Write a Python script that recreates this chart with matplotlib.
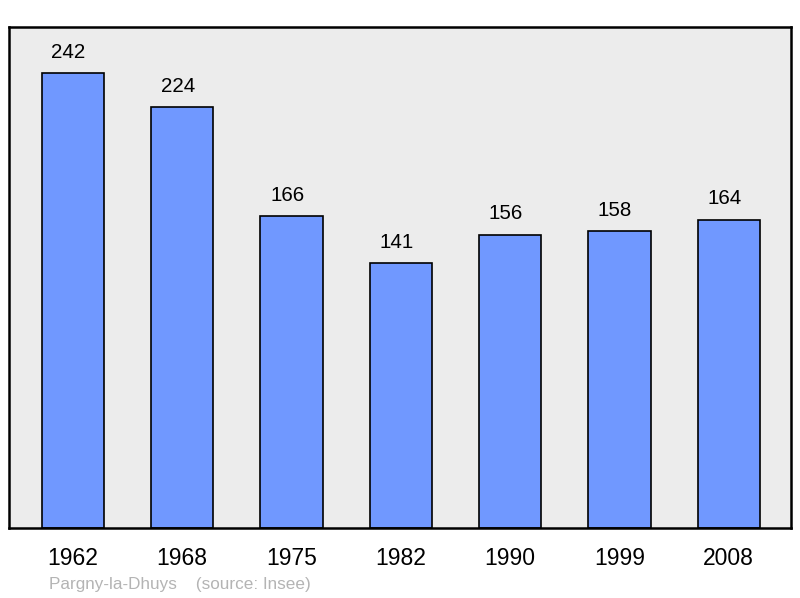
import matplotlib
matplotlib.use("Agg")
import matplotlib.pyplot as plt

# Population data
years = ["1962", "1968", "1975", "1982", "1990", "1999", "2008"]
population = [242, 224, 166, 141, 156, 158, 164]

plt.rcParams['font.family'] = ['Liberation Sans', 'DejaVu Sans']

fig = plt.figure(figsize=(8, 5.98), dpi=100)
ax = fig.add_axes([9 / 800, 70 / 598, 782 / 800, 501 / 598])
ax.set_facecolor("#ececec")

x = list(range(len(years)))
ax.bar(x, population, width=0.57, color="#7098ff", edgecolor="black", linewidth=1.2)

for xi, v in zip(x, population):
    ax.text(xi - 0.04, v + 6, str(v), ha="center", va="bottom", fontsize=14.8)

ax.set_xlim(-0.585, 6.57)
ax.set_ylim(0, 266.5)
ax.set_yticks([])
ax.set_xticks(x)
ax.set_xticklabels(years, fontsize=16.5)
ax.tick_params(axis="x", length=0, pad=14)
for s in ax.spines.values():
    s.set_linewidth(1.8)

fig.text(49 / 800, 1 - 584 / 598, "Pargny-la-Dhuys    (source: Insee)",
         fontsize=12.3, color="#b4b4b4", va="center", ha="left")

fig.savefig("out.png", dpi=100)
